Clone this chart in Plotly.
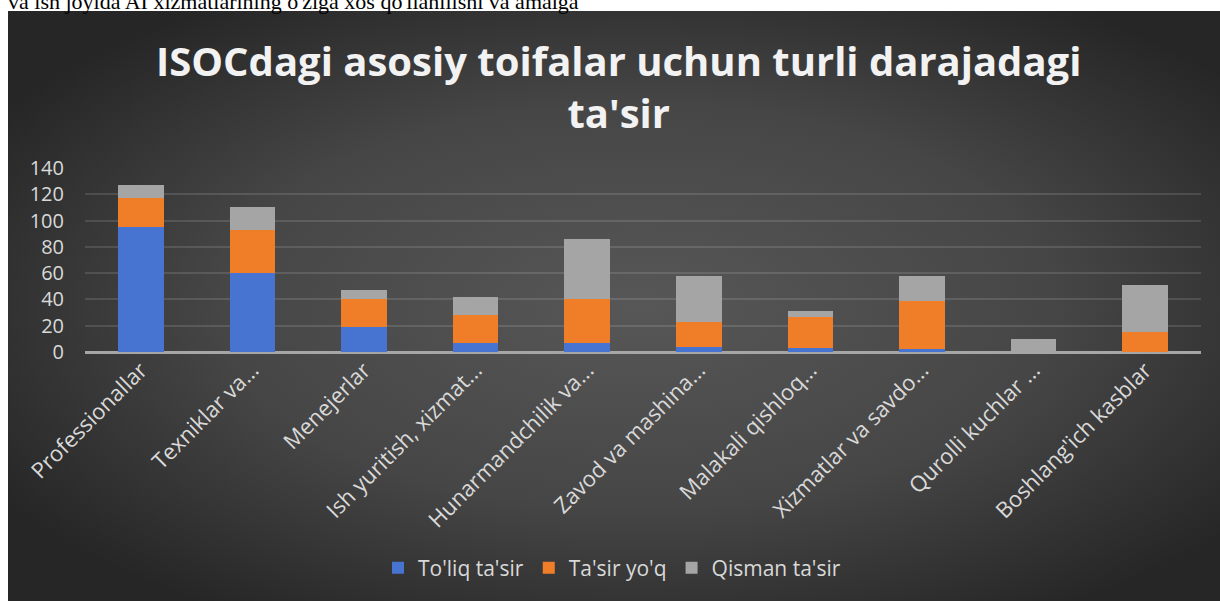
import base64
import plotly.graph_objects as go

categories = ["Professionallar", "Texniklar va...", "Menejerlar", "Ish yuritish, xizmat...",
              "Hunarmandchilik va...", "Zavod va mashina...", "Malakali qishloq...",
              "Xizmatlar va savdo...", "Qurolli kuchlar ...", "Boshlang'ich kasblar"]
toliq = [95, 60, 19, 7, 7, 4, 3, 2, 0, 0]
tasir_yoq = [22, 33, 21, 21, 33, 19, 24, 37, 0, 15]
qisman = [10, 17, 7, 14, 46, 35, 4, 19, 10, 36]
y_ticks = [0, 20, 40, 60, 80, 100, 120, 140]

W, H = 1220, 601
L, R, T, B = 85, 19, 168, 249
pw, ph = W - L - R, H - T - B

svg = f'''<svg xmlns="http://www.w3.org/2000/svg" width="1212" height="590" viewBox="0 0 1212 590" preserveAspectRatio="none">
<defs><radialGradient id="g" cx="0.52" cy="0.5" r="0.62" gradientUnits="objectBoundingBox">
<stop offset="0" stop-color="#575757"/><stop offset="0.55" stop-color="#464646"/><stop offset="1" stop-color="#262626"/>
</radialGradient></defs><rect x="0" y="0" width="1212" height="590" fill="url(#g)"/></svg>'''
src = "data:image/svg+xml;base64," + base64.b64encode(svg.encode()).decode()

def px_x(p):
    return (p - L) / pw

def px_y(p):
    return (H - B - p) / ph

fig = go.Figure()
colors = ["#4674d0", "#f07d28", "#a5a5a5"]
for name, vals, c in [("To'liq ta'sir", toliq, colors[0]),
                      ("Ta'sir yo'q", tasir_yoq, colors[1]),
                      ("Qisman ta'sir", qisman, colors[2])]:
    fig.add_trace(go.Bar(x=categories, y=vals, name=name, marker=dict(color=c, line=dict(width=0))))

fig.add_layout_image(dict(source=src, xref="paper", yref="paper", x=px_x(8), y=px_y(11),
                          sizex=1212 / pw, sizey=590 / ph, xanchor="left", yanchor="top",
                          sizing="stretch", layer="below"))

fig.add_annotation(text="va ish joyida AI xizmatlarining o'ziga xos qo'llanilishi va amalga",
                   xref="paper", yref="paper", x=px_x(6), y=px_y(1), xanchor="left", yanchor="middle",
                   showarrow=False, font=dict(family="Liberation Serif", size=22, color="#000000"))

fig.add_annotation(text="ISOCdagi asosiy toifalar uchun turli darajadagi<br>ta'sir",
                   xref="paper", yref="paper", x=px_x(618), y=px_y(86), xanchor="center", yanchor="middle",
                   showarrow=False, align="center",
                   font=dict(family="Open Sans", size=40, color="#f2f2f2", weight="bold"))

fig.update_layout(
    width=W, height=H, margin=dict(l=L, r=R, t=T, b=B, pad=0),
    paper_bgcolor="#ffffff", plot_bgcolor="rgba(0,0,0,0)",
    barmode="stack", bargap=0.59,
    font=dict(family="Open Sans", color="#d9d9d9"),
    showlegend=True,
    legend=dict(orientation="h", x=px_x(378), xanchor="left", y=px_y(568), yanchor="middle",
                font=dict(size=21, color="#d9d9d9"), traceorder="normal",
                itemwidth=30, bgcolor="rgba(0,0,0,0)"),
    xaxis=dict(tickangle=-45, tickfont=dict(size=22, color="#d9d9d9"), showgrid=False,
               showline=False, ticks="", zeroline=False),
    yaxis=dict(range=[0, 140], tickvals=y_ticks, tickfont=dict(size=20, color="#d9d9d9"),
               showgrid=True, gridcolor="rgba(255,255,255,0.12)", gridwidth=1.5,
               zeroline=True, zerolinecolor="#a6a6a6", zerolinewidth=3, ticks="", ticklabelstandoff=20),
)

fig.write_html("out.html", config={"displayModeBar": False},
               post_script="document.body.style.margin='0';document.body.style.overflow='hidden';")
